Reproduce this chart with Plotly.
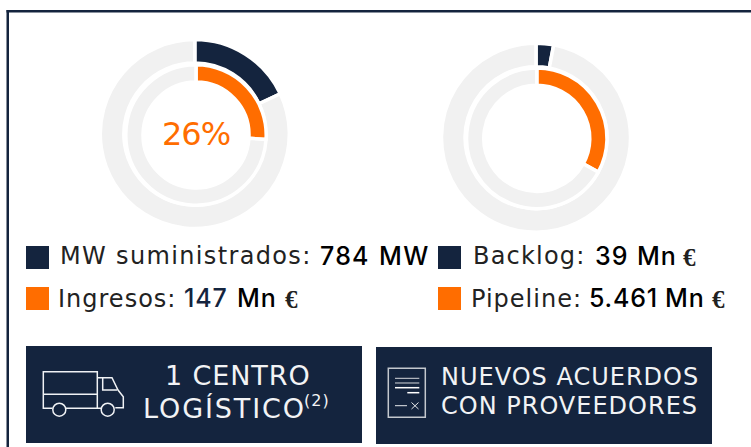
import plotly.graph_objects as go

W, H = 751, 447
NAVY = "#14243e"
ORANGE = "#ff6d00"
GREY = "#f1f1f1"
FONT = "DejaVu Sans"

# Chart data (percent of ring filled)
left_outer = [18, 82]
left_inner = [26, 74]
right_outer = [3, 97]
right_inner = [33, 67]
center_label = "26%"

legend_labels = ["MW suministrados:", "Ingresos:", "Backlog:", "Pipeline:"]
legend_values = ["784", "147", "39", "5.461"]
legend_units = ["MW", "Mn", "Mn", "Mn", "€"]
button_left = ["1 CENTRO", "LOGÍSTICO", "(2)"]
button_right = ["NUEVOS ACUERDOS", "CON PROVEEDORES"]

def X(v): return v / W
def Y(v): return 1 - v / H

def ring(vals, color, cx, cy, r, hole):
    return go.Pie(
        values=vals, sort=False, direction="clockwise", rotation=0,
        hole=hole, textinfo="none", hoverinfo="skip", showlegend=False,
        marker=dict(colors=[color, GREY], line=dict(color="white", width=3.5)),
        domain=dict(x=[X(cx - r), X(cx + r)], y=[Y(cy + r), Y(cy - r)]),
    )

fig = go.Figure([
    ring(left_outer, NAVY, 194.8, 134, 94.5, 0.751),
    ring(left_inner, ORANGE, 196, 135, 70.2, 0.755),
    ring(right_outer, NAVY, 536, 137.7, 94.5, 0.751),
    ring(right_inner, ORANGE, 536.8, 138.3, 70.2, 0.755),
])

shapes, annots = [], []

def rect(x0, y0, x1, y1, color):
    shapes.append(dict(type="rect", xref="paper", yref="paper", x0=X(x0), x1=X(x1),
                       y0=Y(y1), y1=Y(y0), fillcolor=color, line_width=0, layer="below"))

def poly(points, color="#f0f2f5", width=1.5, close=False):
    d = "M" + " L".join(f"{X(a):.5f},{Y(b):.5f}" for a, b in points) + (" Z" if close else "")
    shapes.append(dict(type="path", xref="paper", yref="paper", path=d,
                       line=dict(color=color, width=width)))

def circle(cx, cy, r, color="#f0f2f5", width=1.5):
    shapes.append(dict(type="circle", xref="paper", yref="paper",
                       x0=X(cx - r), x1=X(cx + r), y0=Y(cy + r), y1=Y(cy - r),
                       line=dict(color=color, width=width)))

def text(s, x, base, size=24, color="#222222", family=FONT, anchor="left",
         spacing=0, weight=400):
    style = f"letter-spacing:{spacing}px"
    dx = -1.5 if anchor == "left" else 0
    annots.append(dict(text=f'<span style="{style}">{s}</span>', xref="paper", yref="paper",
                       x=X(x + dx), y=Y(base + 0.235 * size),
                       xanchor=anchor, yanchor="bottom", showarrow=False, borderpad=0,
                       font=dict(family=family, size=size, color=color, weight=weight)))

# frame
rect(6.5, 10, W, 12.5, NAVY)
rect(6.5, 10, 9, H, NAVY)

# legend squares
rect(26, 246, 49, 269, NAVY)
rect(26, 287, 49, 310, ORANGE)
rect(438, 246, 461, 269, NAVY)
rect(438, 287, 461, 310, ORANGE)

# buttons
rect(26, 346, 362, 443, NAVY)
rect(376, 347, 712, 444, NAVY)

# truck icon
poly([(52.5, 408.3), (43.3, 408.3), (43.3, 371.7), (97.3, 371.7), (97.3, 408.3)])
poly([(43.3, 394.3), (97.3, 394.3)])
poly([(66, 408.3), (101, 408.3)])
poly([(97.3, 377.7), (112, 377.7), (118, 390), (123.3, 396.7), (123.3, 407.7), (115.3, 407.7)])
poly([(102.7, 378), (102.7, 390), (117, 390)])
circle(59.3, 409.7, 6.5)
circle(107.7, 409.7, 6.5)

# document icon
poly([(388.3, 368.3), (425.3, 368.3), (425.3, 417.3), (388.3, 417.3)], "#c4c8ce", 1.5, True)
poly([(395, 378.3), (419.3, 378.3)], "#d5d8dc", 1)
poly([(395, 383), (419.3, 383)], "#d5d8dc", 1)
poly([(395, 387.7), (419.3, 387.7)], "#ffffff", 1.5)
poly([(407.3, 392.7), (419.3, 392.7)], "#ffffff", 1.5)
poly([(395, 405.7), (407, 405.7)], "#e8eaed", 1)
poly([(411.5, 402.5), (418.5, 409)], "#e8eaed", 1)
poly([(411.5, 409), (418.5, 402.5)], "#e8eaed", 1)

# centre label
text(center_label, 196.5, 146.7, 32, ORANGE, anchor="center", spacing=-1)

# legend text
B1, B2 = 265.7, 308.3
VAL = dict(family="Inter", weight=500, size=25)
EURO = dict(size=25, color="#222222", family="Liberation Serif", weight=700)
text(legend_labels[0], 60.5, B1, spacing=1.35)
text(legend_values[0], 320, B1, color="#000000", spacing=1.2, **VAL)
text(legend_units[0], 379, B1, color="#000000", spacing=1.5, **VAL)
text(legend_labels[1], 58.5, B2, spacing=1.0)
text(legend_values[1], 184, B2, color=NAVY, spacing=0.8, **VAL)
text(legend_units[1], 237, B2, color="#000000", spacing=1, **VAL)
text(legend_units[4], 285, B2, **EURO)
text(legend_labels[2], 473, B1, spacing=1.2)
text(legend_values[2], 595, B1, color="#000000", spacing=1, **VAL)
text(legend_units[2], 637, B1, color="#000000", spacing=1, **VAL)
text(legend_units[4], 683, B1, **EURO)
text(legend_labels[3], 471, B2, spacing=1.0)
text(legend_values[3], 589, B2, color="#000000", spacing=0.8, **VAL)
text(legend_units[3], 665, B2, color="#000000", spacing=1, **VAL)
text(legend_units[4], 712, B2, **EURO)

# button text
text(button_left[0], 237.5, 385.7, 27, "#f2f3f5", anchor="center", spacing=0.9)
text(button_left[1], 143, 419, 27, "#f2f3f5", spacing=1.9)
text(button_left[2], 304, 407, 16, "#f2f3f5", spacing=1)
text(button_right[0], 441, 386.7, 24, "#f2f3f5", spacing=1)
text(button_right[1], 441, 415.3, 24, "#f2f3f5", spacing=1)

fig.update_layout(
    width=W, height=H, margin=dict(l=0, r=0, t=0, b=0),
    paper_bgcolor="white", plot_bgcolor="white",
    shapes=shapes, annotations=annots, showlegend=False,
)
fig.write_html("out.html", config=dict(displayModeBar=False),
               post_script="document.body.style.margin='0';document.body.style.overflow='hidden';")
